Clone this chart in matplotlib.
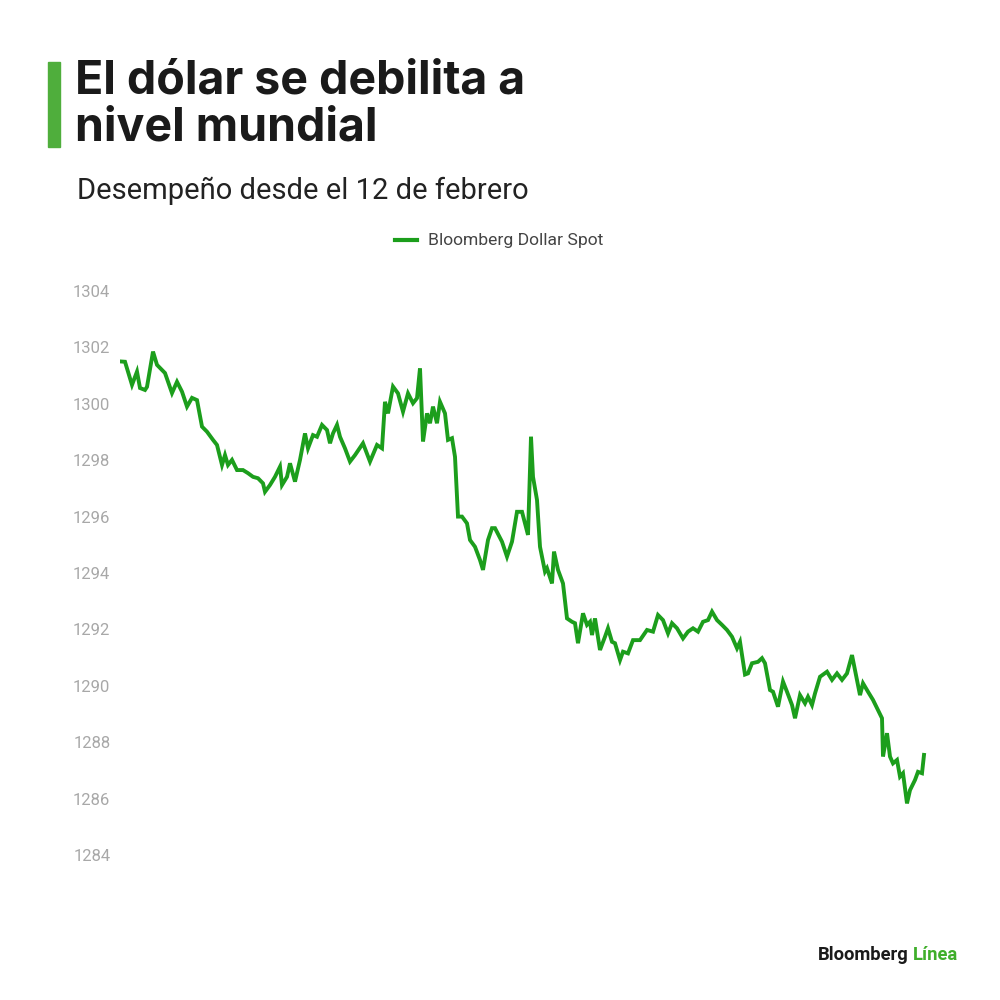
import matplotlib.pyplot as plt
from matplotlib.patches import Rectangle

# Bloomberg Dollar Spot, desde el 12 de febrero
t = [0, 4, 11, 16, 19, 24, 26, 32, 36, 41, 44, 51, 56, 61, 66, 71, 76, 81, 86, 92,
     96, 101, 104, 107, 111, 116, 122, 127, 132, 137, 142, 144, 149, 154, 159, 161, 166, 169, 174, 179,
     184, 187, 192, 196, 201, 206, 209, 212, 216, 219, 224, 229, 234, 242, 249, 256, 261, 264, 267, 272,
     277, 282, 287, 292, 296, 299, 302, 306, 309, 312, 316, 319, 324, 327, 331, 334, 337, 341, 346, 349,
     354, 359, 362, 367, 371, 374, 381, 386, 391, 396, 401, 404, 407, 410, 412, 416, 419, 424, 426, 431,
     433, 437, 442, 446, 451, 454, 457, 462, 466, 469, 471, 474, 479, 484, 487, 491, 494, 499, 502, 507,
     512, 519, 526, 532, 537, 542, 547, 551, 556, 562, 567, 572, 577, 582, 587, 591, 596, 601, 606, 611,
     616, 619, 624, 627, 631, 637, 641, 644, 649, 652, 657, 662, 666, 671, 674, 679, 684, 687, 691, 694,
     699, 706, 711, 716, 721, 726, 731, 734, 739, 742, 747, 752, 757, 761, 762, 766, 769, 772, 776, 779,
     782, 786, 789, 794, 797, 801, 803]
valores = [1301.5, 1301.49, 1300.67, 1301.14, 1300.56, 1300.49, 1300.6, 1301.85, 1301.38, 1301.2,
           1301.09, 1300.38, 1300.78, 1300.43, 1299.9, 1300.21, 1300.13, 1299.19, 1299.01, 1298.72,
           1298.54, 1297.83, 1298.18, 1297.83, 1298.01, 1297.65, 1297.65, 1297.54, 1297.41, 1297.36,
           1297.18, 1296.88, 1297.12, 1297.41, 1297.77, 1297.12, 1297.41, 1297.89, 1297.24, 1298.01,
           1298.95, 1298.42, 1298.89, 1298.83, 1299.25, 1299.07, 1298.6, 1298.95, 1299.25, 1298.83,
           1298.42, 1297.95, 1298.18, 1298.6, 1297.95, 1298.54, 1298.42, 1300.07, 1299.66, 1300.61,
           1300.37, 1299.72, 1300.37, 1300.02, 1300.2, 1301.26, 1298.66, 1299.66, 1299.31, 1299.9,
           1299.31, 1300.07, 1299.66, 1298.72, 1298.78, 1298.12, 1296.0, 1296.0, 1295.76, 1295.17,
           1294.93, 1294.46, 1294.11, 1295.17, 1295.59, 1295.59, 1295.11, 1294.58, 1295.11, 1296.17,
           1296.17, 1295.76, 1295.35, 1298.83, 1297.41, 1296.59, 1294.93, 1294.05, 1294.17, 1293.63,
           1294.76, 1294.11, 1293.63, 1292.39, 1292.27, 1292.22, 1291.51, 1292.57, 1292.16, 1292.27,
           1291.8, 1292.39, 1291.27, 1291.74, 1292.04, 1291.56, 1291.51, 1290.91, 1291.21, 1291.15,
           1291.62, 1291.62, 1291.98, 1291.92, 1292.51, 1292.33, 1291.86, 1292.22, 1292.04, 1291.68,
           1291.92, 1292.04, 1291.92, 1292.27, 1292.33, 1292.63, 1292.33, 1292.16, 1291.98, 1291.74,
           1291.33, 1291.56, 1290.4, 1290.44, 1290.8, 1290.85, 1290.98, 1290.8, 1289.85, 1289.79,
           1289.26, 1290.15, 1289.79, 1289.32, 1288.85, 1289.67, 1289.38, 1289.61, 1289.32, 1289.73,
           1290.32, 1290.5, 1290.21, 1290.44, 1290.21, 1290.44, 1291.09, 1290.56, 1289.67, 1290.09,
           1289.79, 1289.5, 1289.14, 1288.85, 1287.49, 1288.32, 1287.49, 1287.25, 1287.37, 1286.78,
           1286.9, 1285.83, 1286.3, 1286.66, 1286.95, 1286.9, 1287.55]
y_ticks = list(range(1284, 1305, 2))

verde = '#1c9e1c'

fig = plt.figure(figsize=(10, 10), dpi=100)
ax = fig.add_axes([0.12, 0.1337, 0.81, 0.5866])
ax.plot(t, valores, color=verde, linewidth=2.8, solid_joinstyle='miter')
ax.set_xlim(-1, 809)
ax.set_ylim(1283.6, 1304.4)
ax.set_yticks(y_ticks)
ax.set_yticklabels([str(v) for v in y_ticks], fontsize=12, color='#a8a8a8', family='Roboto')
ax.tick_params(axis='y', length=0, pad=7)
ax.set_xticks([])
for s in ax.spines.values():
    s.set_visible(False)

# título y subtítulo
fig.patches.append(Rectangle((0.048, 0.853), 0.012, 0.085, transform=fig.transFigure,
                             color='#4fae3c', zorder=5))
fig.text(0.075, 0.940, 'El dólar se debilita a\nnivel mundial', fontsize=33.5, fontweight='bold',
         family='Inter', color='#1a1a1a', va='top', ha='left', linespacing=1.07)
fig.text(0.077, 0.809, 'Desempeño desde el 12 de febrero', fontsize=21,
         family='Roboto', color='#222222', va='center', ha='left')

# leyenda
fig.lines.append(plt.Line2D([0.395, 0.417], [0.760, 0.760], transform=fig.transFigure,
                            color=verde, linewidth=3))
fig.text(0.428, 0.760, 'Bloomberg Dollar Spot', fontsize=12.6, family='Roboto',
         color='#444444', va='center', ha='left')

# marca
fig.text(0.818, 0.045, 'Bloomberg', fontsize=13.2, fontweight='bold', family='Roboto',
         color='#1a1a1a', va='center', ha='left')
fig.text(0.913, 0.045, 'Línea', fontsize=13.2, fontweight='bold', family='Roboto',
         color='#3fae2a', va='center', ha='left')

fig.savefig('out.png', dpi=100, facecolor='white')
